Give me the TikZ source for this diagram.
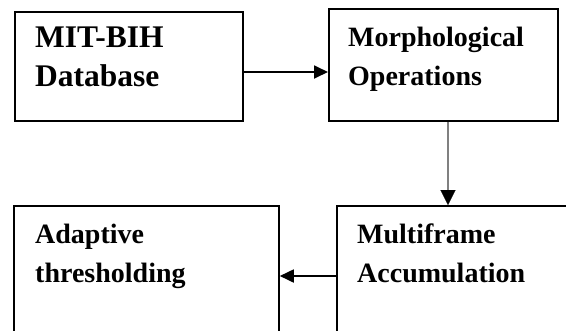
\documentclass[tikz,border=0pt]{standalone}
\usepackage{fontspec}
\setmainfont{Liberation Serif}
\usetikzlibrary{arrows.meta}
\begin{document}
\begin{tikzpicture}[x=1pt,y=-1pt,
  box/.style={draw=black, line width=1.8pt, rectangle, inner sep=0pt, anchor=north west},
  txt/.style={inner sep=0pt, anchor=base west, align=left, font=\bfseries\fontsize{28}{39}\selectfont},
  bigtxt/.style={txt, font=\bfseries\fontsize{31.5}{39}\selectfont},
  arr/.style={line width=1.8pt, -{Triangle[length=14pt, width=13pt]}},
  gline/.style={line width=2.2pt, draw=black!50},
  harr/.style={line width=0.1pt, draw=black, -{Triangle[length=15pt, width=15pt]}}]
\useasboundingbox (0,0) rectangle (566,330);
\clip (0,0) rectangle (566,330);
\node[box, minimum width=228pt, minimum height=109pt] (db) at (14,11) {};
\node[box, minimum width=229pt, minimum height=112pt] (mo) at (328,8) {};
\node[box, minimum width=265pt, minimum height=160pt] (at) at (13,205) {};
\node[box, minimum width=260pt, minimum height=160pt] (ma) at (336,205) {};
\node[bigtxt] (t1) at (35,86) {MIT-BIH\\Database};
\node[txt] (t2) at (348,85) {Morphological\\Operations};
\node[txt] (t3) at (35,282) {Adaptive\\thresholding};
\node[txt] (t4) at (357,282) {Multiframe\\Accumulation};
\coordinate (y1) at (0,72);
\coordinate (x2) at (448,0);
\coordinate (y3) at (0,276);
\draw[arr] (db.east |- y1) -- (mo.west |- y1);
\draw[gline, shorten >=13pt] (mo.south -| x2) -- (ma.north -| x2);
\draw[harr, shorten <=70pt] (mo.south -| x2) -- (ma.north -| x2);
\draw[arr] (ma.west |- y3) -- (at.east |- y3);
\end{tikzpicture}
\end{document}
